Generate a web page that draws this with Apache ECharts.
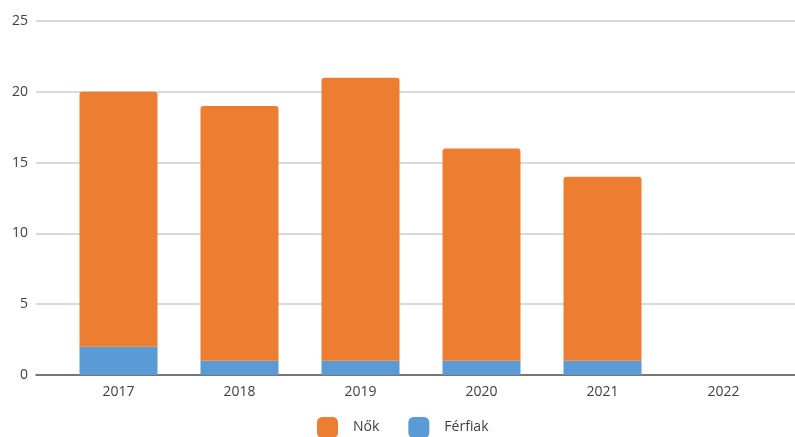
<!DOCTYPE html>
<html>
<head>
<meta charset="utf-8">
<script src="https://cdn.jsdelivr.net/npm/echarts@6/dist/echarts.min.js"></script>
<style>
  html, body { margin: 0; padding: 0; background: #fff; }
  #chart { width: 795px; height: 437px; }
</style>
</head>
<body>
<div id="chart"></div>
<script>
// Yearly counts, split by gender (stacked)
const years = ['2017', '2018', '2019', '2020', '2021', '2022'];
const ferfiak = [2, 1, 1, 1, 1, 0];
const nok = [18, 18, 20, 15, 13, 0];
const yTicks = { min: 0, max: 25, interval: 5 };

const FONT = '"Open Sans", "Liberation Sans", sans-serif';
const TEXT = '#404040';

const chart = echarts.init(document.getElementById('chart'), null, { renderer: 'canvas' });

chart.setOption({
  animation: false,
  textStyle: { fontFamily: FONT },
  grid: [
    // frame: gridlines, tick labels and baseline across the full width
    { left: 36, right: 0, top: 21, bottom: 62 },
    // bars: categories occupy the inner band
    { left: 58, right: 11, top: 21, bottom: 62 }
  ],
  legend: {
    data: ['Nők', 'Férfiak'],
    left: 317,
    top: 417,
    padding: 0,
    itemWidth: 21,
    itemHeight: 21,
    itemGap: 29,
    icon: 'roundRect',
    textStyle: { color: TEXT, fontSize: 14, fontFamily: FONT, padding: [0, 0, 0, 10] }
  },
  xAxis: [
    {
      gridIndex: 0, type: 'value', min: 0, max: 1,
      axisLine: { show: true, onZero: true, lineStyle: { color: '#555', width: 1.5 } },
      axisTick: { show: false }, axisLabel: { show: false }, splitLine: { show: false }
    },
    {
      gridIndex: 1, type: 'category', data: years,
      axisLine: { show: false }, axisTick: { show: false },
      axisLabel: { color: TEXT, fontSize: 14, margin: 10, fontFamily: FONT }
    }
  ],
  yAxis: [
    {
      gridIndex: 0, type: 'value', min: yTicks.min, max: yTicks.max, interval: yTicks.interval,
      axisLine: { show: false }, axisTick: { show: false },
      axisLabel: { color: TEXT, fontSize: 14, margin: 8, fontFamily: FONT },
      splitLine: { lineStyle: { color: '#cccccc', width: 1.5 } }
    },
    {
      gridIndex: 1, type: 'value', min: yTicks.min, max: yTicks.max, interval: yTicks.interval,
      show: false, splitLine: { show: false }
    }
  ],
  series: [
    {
      name: 'Férfiak', type: 'bar', stack: 'total',
      xAxisIndex: 1, yAxisIndex: 1,
      barWidth: 78,
      itemStyle: { color: '#5B9BD5' },
      data: ferfiak
    },
    {
      name: 'Nők', type: 'bar', stack: 'total',
      xAxisIndex: 1, yAxisIndex: 1,
      barWidth: 78,
      itemStyle: { color: '#ED7D31', borderRadius: [3, 3, 0, 0] },
      data: nok
    }
  ]
});
</script>
</body>
</html>
